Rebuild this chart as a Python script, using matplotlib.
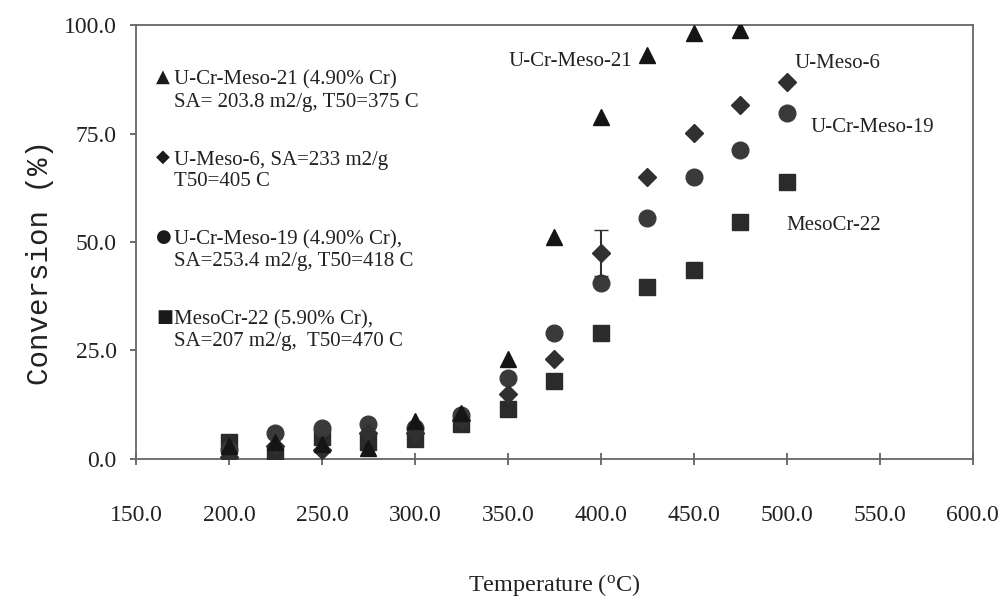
import matplotlib
matplotlib.use("Agg")
import matplotlib.pyplot as plt

# temperatures (C) and conversion (%)
temps = [200, 225, 250, 275, 300, 325, 350, 375, 400, 425, 450, 475, 500]

conv_meso21 = [3.0, 4.0, 3.5, 2.5, 8.7, 10.5, 23.0, 51.2, 78.8, 93.1, 98.2, 98.8]
conv_meso6 = [0.5, 3.0, 2.0, 6.0, 6.0, 9.0, 15.0, 23.0, 47.5, 65.0, 75.1, 81.6, 86.9]
err_meso6 = [0, 0, 0, 0, 0, 0, 0, 0, 5.3, 0, 0, 0, 0]
conv_meso19 = [2.0, 6.0, 7.0, 8.0, 7.0, 10.0, 18.7, 29.0, 40.6, 55.5, 65.0, 71.2, 79.7]
conv_mesocr22 = [4.0, 1.0, 5.0, 4.0, 4.5, 8.0, 11.5, 18.0, 29.0, 39.6, 43.5, 54.6, 63.8]

xticks = [150, 200, 250, 300, 350, 400, 450, 500, 550, 600]
yticks = [0, 25, 50, 75, 100]

legend_symbols = ["▲", "◆", "●", "■"]
legend_labels = [
    "U-Cr-Meso-21 (4.90% Cr)\nSA= 203.8 m2/g, T50=375 C",
    "U-Meso-6, SA=233 m2/g\nT50=405 C",
    "U-Cr-Meso-19 (4.90% Cr),\nSA=253.4 m2/g, T50=418 C",
    "MesoCr-22 (5.90% Cr),\nSA=207 m2/g,  T50=470 C",
]

tags = ["U-Cr-Meso-21", "U-Meso-6", "U-Cr-Meso-19", "MesoCr-22"]
tag_x = [417, 504, 513, 500]
tag_y = [91.5, 91.2, 76.3, 53.9]
tag_ha = ["right", "left", "left", "left"]

serif = ["Liberation Serif", "DejaVu Sans"]
txt = "#222222"

fig = plt.figure(figsize=(10.03, 6.11), dpi=100)
ax = fig.add_axes([0.1356, 0.249, 0.834, 0.710])

ax.plot(temps, conv_mesocr22, ls="none", marker="s", ms=11, color="#2b2b2b", zorder=3)
ax.plot(temps, conv_meso19, ls="none", marker="o", ms=12, color="#3a3a3a", zorder=3)
ax.errorbar(temps, conv_meso6, yerr=err_meso6, ls="none", marker="D", ms=9.5,
            color="#303030", ecolor="#303030", capsize=5, elinewidth=1.5, zorder=4)
ax.plot(temps[:len(conv_meso21)], conv_meso21, ls="none", marker="^", ms=11.5,
        color="#151515", zorder=5)

ax.set_xlim(150, 600)
ax.set_ylim(0, 100)
ax.set_xticks(xticks)
ax.set_yticks(yticks)
ax.set_xticklabels([f"{v:.1f}" for v in xticks], family=serif, fontsize=17, color=txt)
ax.set_yticklabels([f"{v:.1f}" for v in yticks], family=serif, fontsize=17, color=txt)
ax.tick_params(axis="x", direction="inout", length=9, width=1.2, color="#555555", pad=29)
ax.tick_params(axis="y", direction="out", length=4, width=1.2, color="#555555", pad=10)

for s in ax.spines.values():
    s.set_color("#666666")
    s.set_linewidth(1.3)

ax.set_xlabel("Temperature ($\\mathregular{^{o}}$C)", family=serif, fontsize=17.5,
              color=txt, va="center")
ax.xaxis.set_label_coords(0.5, -0.29)
ax.set_ylabel("Conversion (%)", family=["Liberation Mono", "DejaVu Sans"], fontsize=21,
              color=txt, va="center")
ax.yaxis.set_label_coords(-0.115, 0.452)

for i in range(len(legend_labels)):
    y = 0.880 - i * 0.1843
    ax.text(0.024, y, legend_symbols[i], transform=ax.transAxes, family="DejaVu Sans",
            fontsize=13, color="#1a1a1a", ha="left", va="center")
    ax.text(0.046, y - 0.032, legend_labels[i], transform=ax.transAxes, family=serif,
            fontsize=15, color=txt, ha="left", va="center")

for i in range(len(tags)):
    ax.text(tag_x[i], tag_y[i], tags[i], family=serif, fontsize=15, color=txt,
            ha=tag_ha[i], va="center")

fig.savefig("out.png", dpi=100, facecolor="white")
